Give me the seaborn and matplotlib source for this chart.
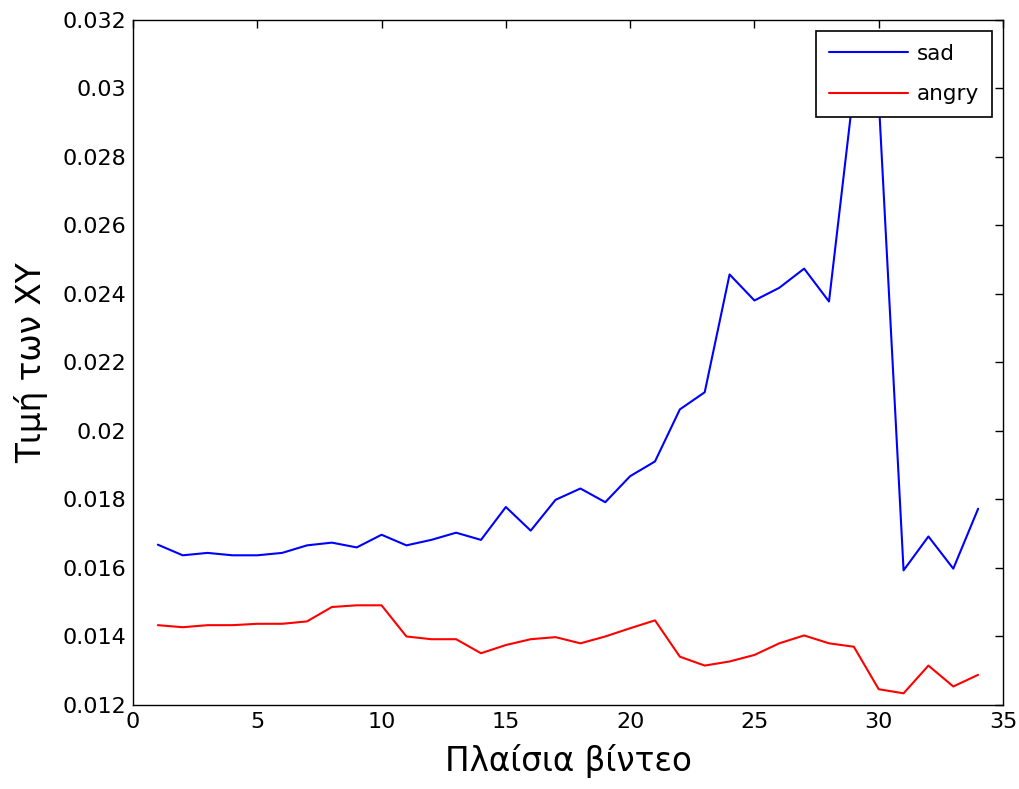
import numpy as np
import pandas as pd
import matplotlib
matplotlib.use("Agg")
import matplotlib.pyplot as plt
import seaborn as sns

# frame index
frames = list(range(1, 35))

# values
sad = [0.01668, 0.01637, 0.01644, 0.01637, 0.01637, 0.01644, 0.01666, 0.01674,
       0.01660, 0.01697, 0.01666, 0.01682, 0.01703, 0.01682, 0.01778, 0.01709,
       0.01799, 0.01832, 0.01792, 0.01868, 0.01911, 0.02063, 0.02113, 0.02457,
       0.02381, 0.02418, 0.02474, 0.02378, 0.03000, 0.02970, 0.01593, 0.01692,
       0.01598, 0.01773]
angry = [0.01433, 0.01427, 0.01433, 0.01433, 0.01437, 0.01437, 0.01444, 0.01486,
         0.01491, 0.01491, 0.01400, 0.01392, 0.01392, 0.01351, 0.01375, 0.01392,
         0.01398, 0.01380, 0.01400, 0.01424, 0.01447, 0.01341, 0.01315, 0.01327,
         0.01346, 0.01380, 0.01403, 0.01380, 0.01370, 0.01246, 0.01234, 0.01315,
         0.01254, 0.01288]

df = pd.DataFrame({"frame": frames * 2,
                   "value": sad + angry,
                   "emotion": ["sad"] * len(sad) + ["angry"] * len(angry)})

sns.set_style("white")
plt.rcParams["font.family"] = ["DejaVu Sans"]
plt.rcParams["text.color"] = "black"

fig = plt.figure(figsize=(10.19, 7.89), dpi=100)
ax = fig.add_axes([0.1305, 0.1065, 0.8538, 0.8682])

sns.lineplot(data=df, x="frame", y="value", hue="emotion",
             palette={"sad": "#0000ff", "angry": "#ff0000"}, linewidth=1.5, ax=ax)

ax.set_xlim(0, 35)
ax.set_ylim(0.012, 0.032)
ax.set_xticks(np.arange(0, 36, 5))
ax.set_yticks(np.arange(0.012, 0.0321, 0.002))
ax.set_yticklabels(["0.012", "0.014", "0.016", "0.018", "0.02", "0.022",
                    "0.024", "0.026", "0.028", "0.03", "0.032"])
ax.tick_params(direction="in", length=6, width=1, top=True, right=True,
               labelsize=16, colors="black", pad=5)
for s in ax.spines.values():
    s.set_color("black")
    s.set_linewidth(1)

ax.set_xlabel("Πλαίσια βίντεο", fontsize=23.5, color="black", labelpad=9)
ax.set_ylabel("Τιμή των XY", fontsize=23.5, color="black", labelpad=10)

leg = ax.legend(loc="upper right", fontsize=15.5, fancybox=False, framealpha=1,
                edgecolor="black", borderaxespad=0.5, handlelength=3.7,
                handletextpad=0.4, labelspacing=0.95, borderpad=0.6)
leg.get_frame().set_linewidth(1.2)
for t in leg.get_texts():
    t.set_color("black")

fig.savefig("out.png", dpi=100, facecolor="white")
